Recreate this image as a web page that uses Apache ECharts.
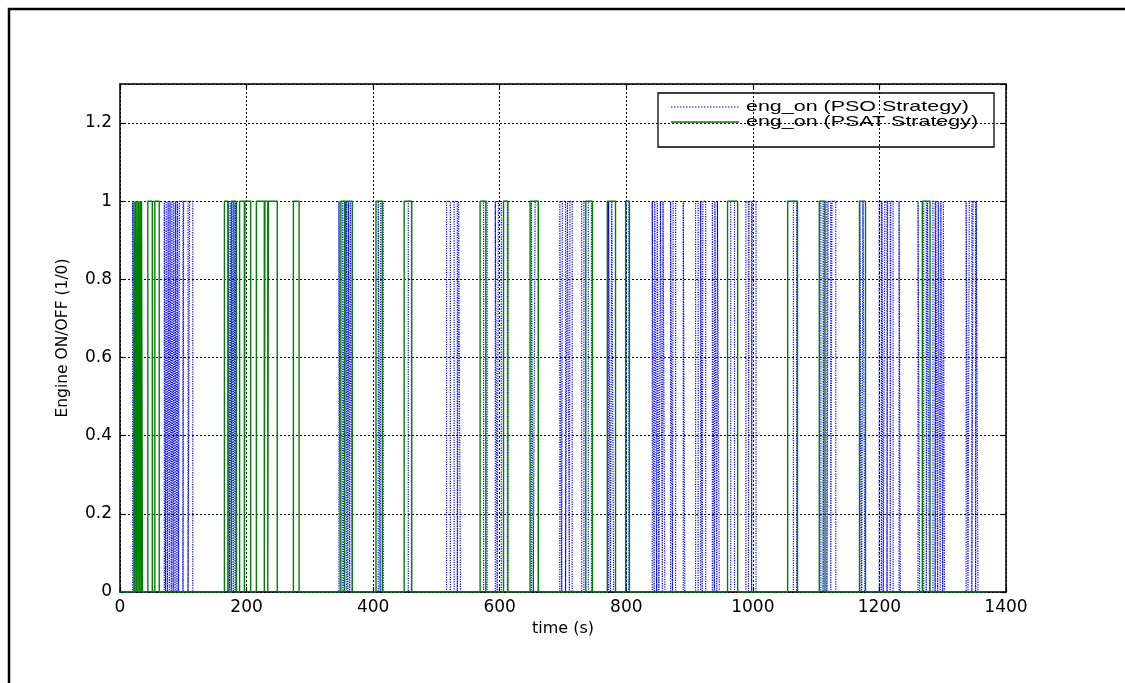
<!DOCTYPE html>
<html>
<head>
<meta charset="utf-8">
<script src="https://cdn.jsdelivr.net/npm/echarts@6/dist/echarts.min.js"></script>
<style>
html,body{margin:0;padding:0;background:#fff;}
#chart{width:1125px;height:683px;}
</style>
</head>
<body>
<div id="chart"></div>
<script>
// ---- data (seconds) ----
var timeEnd = 1368;
var xTicks = [0, 200, 400, 600, 800, 1000, 1200, 1400];
var yTicks = [0, 0.2, 0.4, 0.6, 0.8, 1, 1.2];
var seriesNames = ['eng_on (PSO Strategy)', 'eng_on (PSAT Strategy)'];
// engine-on intervals [start, end] for the PSO strategy
var psoPulses = [
  [20,23],
  [70,72],[73,75],[76,78],[79,81],[82,84],[85,87],[88,90],[91,92.5],
  [94,99.5],[100.5,107.5],[110,115],
  [171,173],[174,176],[177,179],[180,182],[182.5,184],
  [346,348],[352,354],[358,360],[361,363],[364,367],
  [408,411],[412,416],
  [455.5,460.5],
  [516,522],[528,533],[535,538],
  [574.5,580],
  [593,596],[598,602.5],
  [606,612],
  [650,653],[656,661],
  [695,698],[699,704],[707,710],[711,714.5],
  [729.5,733],
  [740,745],
  [772,775],[777,780],
  [800,804],
  [841,844],[845,848],[849,851.5],[854,857],[858,861],
  [870,873],[874,878],
  [890,892.5],
  [909.5,913.6],
  [917.5,920],[921,925.5],
  [936,939],[940,943],[944,947],
  [965,971],
  [989,993],[994,998],[999,1005],
  [1064,1069],
  [1107.5,1111],[1113,1117],[1119,1123],[1125,1131],
  [1169,1172],[1174,1177],
  [1199.6,1203],[1204,1206],[1208.6,1212],[1213,1217],[1218,1221.6],
  [1231,1233],
  [1261,1263.5],
  [1270,1274],[1276,1279],
  [1284.5,1288],[1289,1292],[1293,1296],[1297,1300],[1301,1302.8],
  [1337,1340],[1342,1346],[1348,1352],[1353,1355.7]
];
// engine-on intervals [start, end] for the PSAT strategy
var psatPulses = [
  [22,23.5],[24.5,26],[27,28.5],[29.5,31],[32,33.5],[34,35.5],
  [44,51],[55,62],
  [165,170.5],[176,184],
  [189,196.5],[197.5,206.5],
  [215.5,228],[229,233.5],[234.5,248.5],
  [274,283],
  [349,355],[356,367],
  [404.5,414.5],
  [449,461],
  [569,578],
  [606,613],
  [648,661],
  [736,746.5],
  [770,783],
  [799,805],
  [960,976],
  [1055,1070.5],
  [1105,1114],
  [1168.5,1178],
  [1267.8,1280]
];

function toSteps(pulses) {
  var pts = [[0, 0]];
  pulses.forEach(function (p) {
    pts.push([p[0], 0], [p[0], 1], [p[1], 1], [p[1], 0]);
  });
  pts.push([timeEnd, 0]);
  return pts;
}

var FONT = 'DejaVu Sans';
var PSO_COLOR = '#0000ff', PSAT_COLOR = '#008000';
var chart = echarts.init(document.getElementById('chart'), null, {renderer: 'canvas'});
var axisCommon = {
  axisLine: {show: true, onZero: false, lineStyle: {color: '#000', width: 1.5}},
  axisTick: {show: true, inside: true, length: 5, lineStyle: {color: '#000', width: 1.2}}
};
var legendText = {fontFamily: '"Liberation Sans", Arial, sans-serif', fontSize: 15, fill: '#000'};
chart.setOption({
  animation: false,
  backgroundColor: '#fff',
  textStyle: {fontFamily: FONT},
  grid: {left: 120, top: 84, right: 119, bottom: 91, containLabel: false, show: false},
  graphic: [
    {
      type: 'rect', silent: true, z: -10,
      shape: {x: 9, y: 9, width: 1200, height: 800},
      style: {fill: 'none', stroke: '#000', lineWidth: 2.5}
    },
    {
      type: 'group', z: 100, silent: true,
      children: [
        {type: 'rect', shape: {x: 658, y: 93, width: 336, height: 54},
          style: {fill: '#fff', stroke: '#000', lineWidth: 1.3}},
        {type: 'line', shape: {x1: 671, y1: 107, x2: 739, y2: 107},
          style: {stroke: PSO_COLOR, lineWidth: 1.2, lineDash: [1.5, 1.5]}},
        {type: 'line', shape: {x1: 671, y1: 122, x2: 739, y2: 122},
          style: {stroke: PSAT_COLOR, lineWidth: 1.6}},
        {type: 'text', x: 746, y: 107, scaleX: 1.43, originX: 0, originY: 0,
          style: Object.assign({text: seriesNames[0], verticalAlign: 'middle', align: 'left'}, legendText)},
        {type: 'text', x: 746, y: 122, scaleX: 1.43, originX: 0, originY: 0,
          style: Object.assign({text: seriesNames[1], verticalAlign: 'middle', align: 'left'}, legendText)}
      ]
    }
  ],
  xAxis: [
    Object.assign({
      type: 'value', position: 'bottom', min: 0, max: 1400, interval: 200,
      name: 'time (s)', nameLocation: 'middle', nameGap: 28,
      nameTextStyle: {fontFamily: FONT, fontSize: 16, color: '#000'},
      axisLabel: {margin: 7, fontFamily: FONT, fontSize: 17, color: '#000',
        formatter: function (v) { return xTicks.indexOf(v) >= 0 ? String(v) : ''; }},
      splitLine: {show: true, lineStyle: {color: '#000', type: [2, 2], width: 1}}
    }, axisCommon),
    Object.assign({
      type: 'value', position: 'top', min: 0, max: 1400, interval: 200,
      axisLabel: {show: false}, splitLine: {show: false}
    }, axisCommon)
  ],
  yAxis: [
    Object.assign({
      type: 'value', position: 'left', min: 0, max: 1.3, interval: 0.2,
      name: 'Engine ON/OFF (1/0)', nameLocation: 'middle', nameGap: 49, nameRotate: 90,
      nameTextStyle: {fontFamily: FONT, fontSize: 15.5, color: '#000'},
      axisLabel: {margin: 8, fontFamily: FONT, fontSize: 17, color: '#000', showMaxLabel: false,
        formatter: function (v) {
          for (var i = 0; i < yTicks.length; i++) if (Math.abs(yTicks[i] - v) < 1e-6) return String(yTicks[i]);
          return '';
        }},
      splitLine: {show: true, lineStyle: {color: '#000', type: [2, 2], width: 1}}
    }, axisCommon),
    Object.assign({
      type: 'value', position: 'right', min: 0, max: 1.3, interval: 0.2,
      axisLabel: {show: false}, splitLine: {show: false}
    }, axisCommon)
  ],
  series: [
    {
      name: seriesNames[0], type: 'line', xAxisIndex: 0, yAxisIndex: 0,
      data: toSteps(psoPulses), showSymbol: false, symbol: 'none',
      lineStyle: {color: PSO_COLOR, width: 1.2, type: 'dotted'},
      itemStyle: {color: PSO_COLOR}, z: 3
    },
    {
      name: seriesNames[1], type: 'line', xAxisIndex: 0, yAxisIndex: 0,
      data: toSteps(psatPulses), showSymbol: false, symbol: 'none',
      lineStyle: {color: PSAT_COLOR, width: 1.4, type: 'solid'},
      itemStyle: {color: PSAT_COLOR}, z: 4
    }
  ]
});
</script>
</body>
</html>
